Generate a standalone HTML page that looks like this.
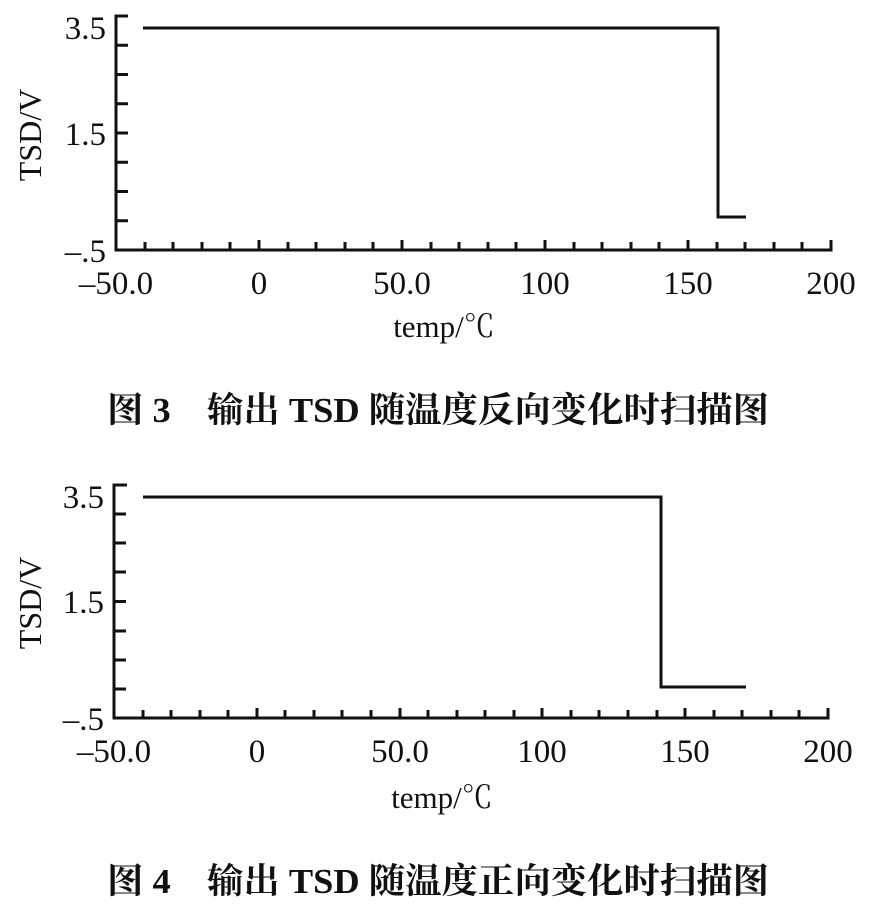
<!DOCTYPE html>
<html><head><meta charset="utf-8"><style>
html,body{margin:0;padding:0;background:#fff;}
svg text{font-family:"Liberation Serif","Noto Serif CJK SC",serif;fill:#111;}
</style></head><body>
<svg width="872" height="915" viewBox="0 0 872 915" xmlns="http://www.w3.org/2000/svg">
<g stroke="#111" fill="none">
<path d="M128 16H116V250H831V240" stroke-width="3"/>
<g stroke-width="3">
<path d="M116 45.25H128M116 74.5H128M116 103.75H128M116 133H128M116 162.25H128M116 191.5H128M116 220.75H128"/>
<path d="M145 250v-8M173 250v-8M202 250v-8M230 250v-8M259 250v-10M288 250v-8M316 250v-8M345 250v-8M373 250v-8M402 250v-10M431 250v-8M459 250v-8M488 250v-8M516 250v-8M545 250v-10M574 250v-8M602 250v-8M631 250v-8M659 250v-8M688 250v-10M717 250v-8M745 250v-8M774 250v-8M802 250v-8"/>
</g>
<path d="M143 28H718V217H746" stroke-width="3"/>
</g>
<g font-size="33">
<text x="106" y="39" text-anchor="end">3.5</text>
<text x="106" y="145" text-anchor="end">1.5</text>
<text x="106" y="262" text-anchor="end">–.5</text>
<text x="116" y="294" text-anchor="middle">–50.0</text>
<text x="259" y="294" text-anchor="middle">0</text>
<text x="402" y="294" text-anchor="middle">50.0</text>
<text x="545" y="294" text-anchor="middle">100</text>
<text x="688" y="294" text-anchor="middle">150</text>
<text x="831" y="294" text-anchor="middle">200</text>
<text x="41" y="135" text-anchor="middle" transform="rotate(-90 41 135)" font-size="32">TSD/V</text>
<text x="444" y="337" text-anchor="middle" font-size="31">temp/℃</text>
<text x="438" y="422" text-anchor="middle" font-size="35" font-weight="bold" textLength="662" lengthAdjust="spacingAndGlyphs">图 3　输出 TSD 随温度反向变化时扫描图</text>
</g>
<g stroke="#111" fill="none">
<path d="M127 485H114V718H828V708" stroke-width="3"/>
<g stroke-width="3">
<path d="M114 514H126M114 543H126M114 572H126M114 601.5H126M114 631H126M114 660H126M114 689H126"/>
<path d="M143 718v-8M171 718v-8M200 718v-8M228 718v-8M257 718v-10M285 718v-8M314 718v-8M342 718v-8M371 718v-8M400 718v-10M428 718v-8M457 718v-8M485 718v-8M514 718v-8M542 718v-10M571 718v-8M599 718v-8M628 718v-8M657 718v-8M685 718v-10M714 718v-8M742 718v-8M771 718v-8M799 718v-8"/>
</g>
<path d="M143 497H661V687H746" stroke-width="3"/>
</g>
<g font-size="33">
<text x="104" y="508" text-anchor="end">3.5</text>
<text x="104" y="613" text-anchor="end">1.5</text>
<text x="104" y="730" text-anchor="end">–.5</text>
<text x="114" y="762" text-anchor="middle">–50.0</text>
<text x="257" y="762" text-anchor="middle">0</text>
<text x="400" y="762" text-anchor="middle">50.0</text>
<text x="542" y="762" text-anchor="middle">100</text>
<text x="685" y="762" text-anchor="middle">150</text>
<text x="828" y="762" text-anchor="middle">200</text>
<text x="41" y="603" text-anchor="middle" transform="rotate(-90 41 603)" font-size="32">TSD/V</text>
<text x="442" y="808" text-anchor="middle" font-size="31">temp/℃</text>
<text x="438" y="893" text-anchor="middle" font-size="35" font-weight="bold" textLength="662" lengthAdjust="spacingAndGlyphs">图 4　输出 TSD 随温度正向变化时扫描图</text>
</g>
</svg>
</body></html>
